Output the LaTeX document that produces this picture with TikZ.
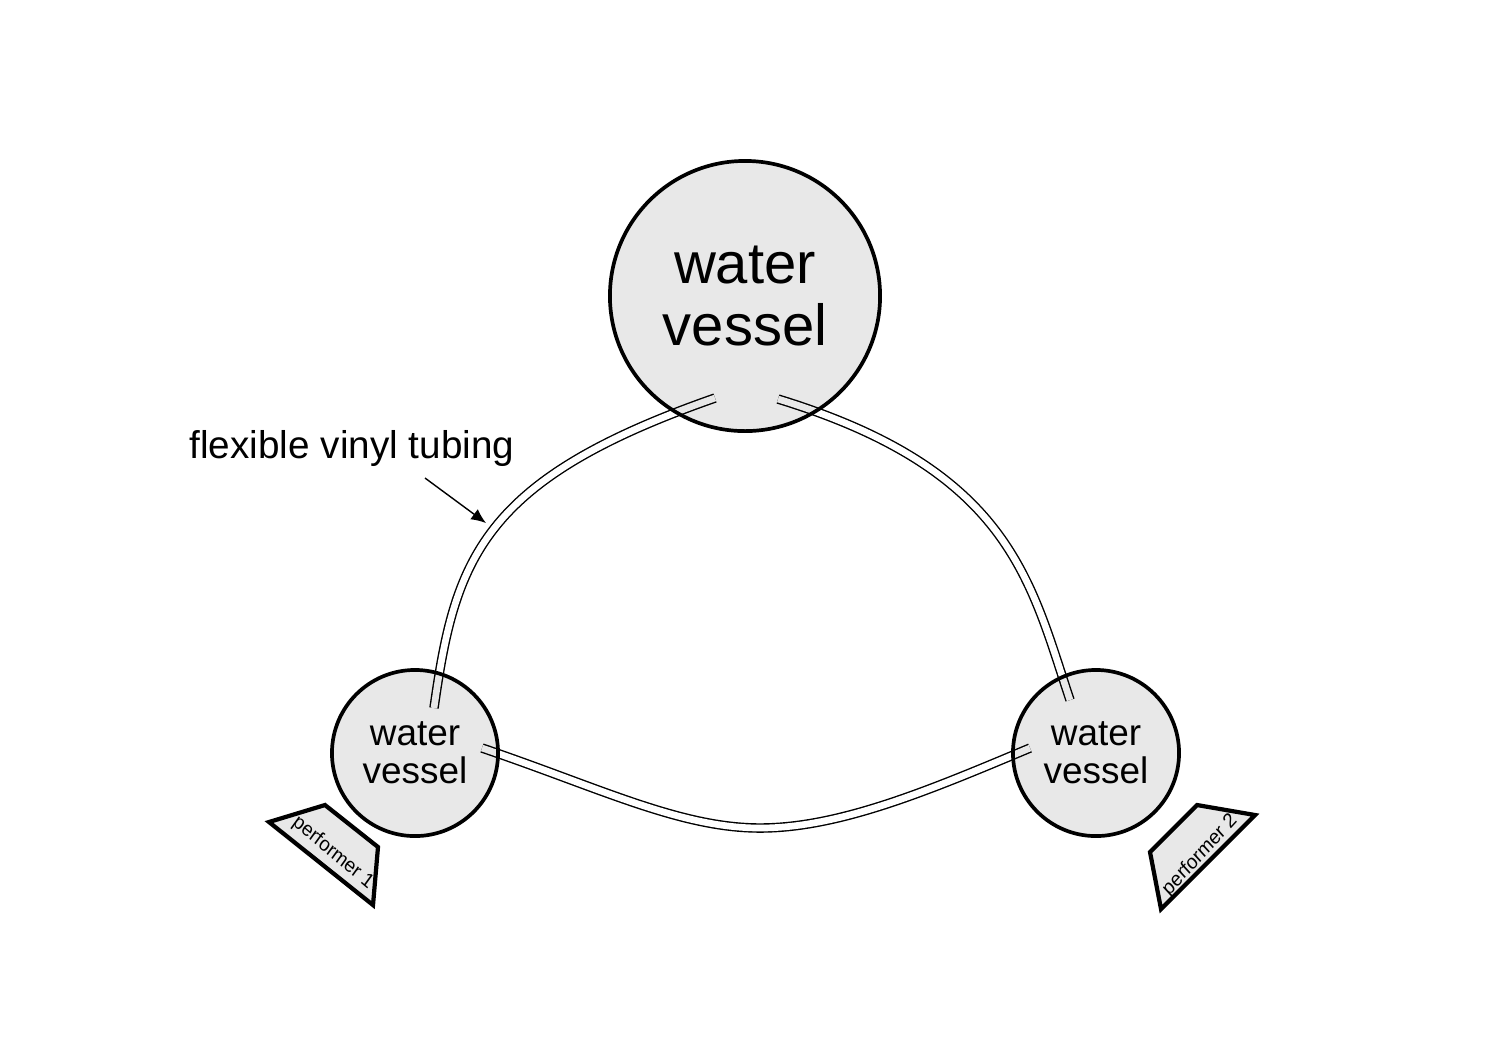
\documentclass[tikz,border=0pt]{standalone}
\usepackage{fontspec}
\setmainfont{Liberation Sans}
\usetikzlibrary{arrows.meta}
\definecolor{vesselgray}{RGB}{232,232,232}

\def\tubeL{(topL) .. controls (480,480) and (455,560) .. (leftT)}
\def\tubeR{(topR) .. controls (1010,470) and (1030,580) .. (rightT)}
\def\tubeB{(leftR) .. controls (600,788) and (680,828) .. (760,828) .. controls (840,828) and (930,790) .. (rightL)}

\begin{document}
\begin{tikzpicture}[x=0.01cm,y=-0.01cm,
    vessel/.style={circle,fill=vesselgray,inner sep=0pt,align=center},
    rim/.style={line width=1.05pt},
    tube/.style={draw=black,line width=0.4pt,double=white,double distance=1.9pt},
    performer/.style={draw,fill=vesselgray,line width=1.2pt,line join=miter},
    perftext/.style={font=\fontsize{5.8}{6}\selectfont,xscale=0.92}]

\useasboundingbox (0,0) rectangle (1500,1050);

% tube ends
\coordinate (topL) at (715,398);
\coordinate (topR) at (778,399);
\coordinate (leftT) at (434,708);
\coordinate (leftR) at (482,748);
\coordinate (rightT) at (1070,700);
\coordinate (rightL) at (1030,748);

\draw[tube] \tubeL;
\draw[tube] \tubeR;
\draw[tube] \tubeB;

\node[vessel,minimum size=2.7cm,font=\fontsize{16.5}{17.6}\selectfont] (top) at (745,296) {water\\vessel};
\node[vessel,minimum size=1.66cm,font=\fontsize{10.5}{10.8}\selectfont] (left) at (415,753) {water\\vessel};
\node[vessel,minimum size=1.66cm,font=\fontsize{10.5}{10.8}\selectfont] (right) at (1096,753) {water\\vessel};

\begin{scope}% tubes seen inside the vessels
  \clip (top.center) circle (1.35cm) (left.center) circle (0.83cm) (right.center) circle (0.83cm);
  \draw[tube,double=vesselgray] \tubeL;
  \draw[tube,double=vesselgray] \tubeR;
  \draw[tube,double=vesselgray] \tubeB;
\end{scope}

\draw[rim] (top.center) circle (1.35cm);
\draw[rim] (left.center) circle (0.83cm);
\draw[rim] (right.center) circle (0.83cm);

% label
\node[font=\fontsize{11}{13}\selectfont] (label) at (352,448) {flexible vinyl tubing};
\coordinate (arrowstart) at (425,478);
\coordinate (tubept) at (486,523);
\draw[-{Latex[length=4.2pt,width=3.6pt]},line width=0.4pt] (arrowstart) -- (tubept);

% performers
\draw[performer] (269,822) -- (325,805) -- (378,847) -- (373,905) -- cycle;
\node[perftext,rotate=-38] (perf1) at (333,853) {performer 1};
\draw[performer] (1197,805) -- (1255,815) -- (1161,909) -- (1150,852) -- cycle;
\node[perftext,rotate=45] (perf2) at (1200,855) {performer 2};

\end{tikzpicture}
\end{document}
